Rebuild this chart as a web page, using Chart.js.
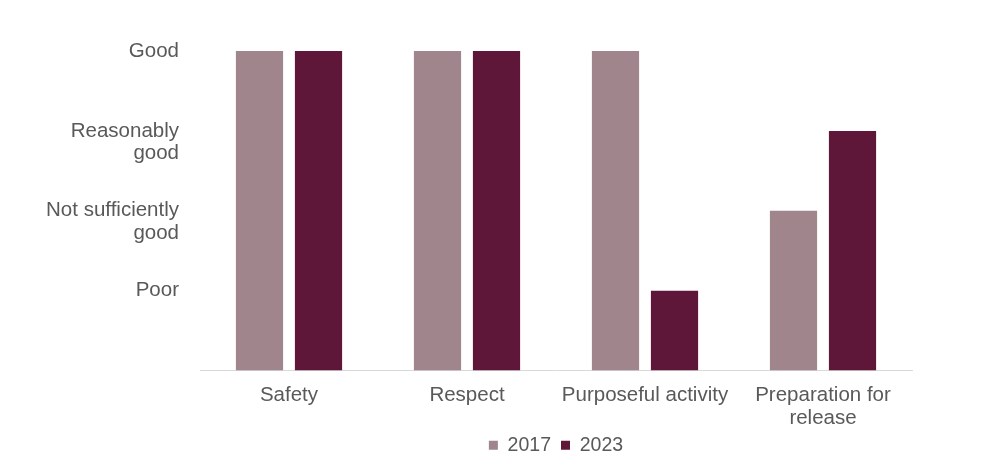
<!DOCTYPE html>
<html>
<head>
<meta charset="utf-8">
<script src="https://cdn.jsdelivr.net/npm/chart.js@4"></script>
<style>
  html, body { margin: 0; padding: 0; background: #ffffff; }
  #wrap { width: 987px; height: 469px; }
</style>
</head>
<body>
<div id="wrap"><canvas id="c" width="987" height="469"></canvas></div>
<script>
const categories = [['Safety'], ['Respect'], ['Purposeful activity'], ['Preparation for', 'release']];
const seriesNames = ['2017', '2023'];
const values2017 = [4, 4, 4, 2];
const values2023 = [4, 4, 1, 3];
const yTickLabels = ['', 'Poor', 'Not sufficiently good', 'Reasonably good', 'Good'];

const textColor = '#595959';
const fontFamily = '"Liberation Sans", Arial, sans-serif';

new Chart(document.getElementById('c'), {
  type: 'bar',
  data: {
    labels: categories,
    datasets: [
      { label: seriesNames[0], data: values2017, backgroundColor: '#A0858D' },
      { label: seriesNames[1], data: values2023, backgroundColor: '#5F1739' }
    ]
  },
  options: {
    responsive: false,
    animation: false,
    devicePixelRatio: 1,
    categoryPercentage: 0.663,
    barPercentage: 0.8,
    layout: { padding: { top: 51, right: 75, bottom: 4, left: 0 } },
    plugins: {
      tooltip: { enabled: false },
      legend: {
        position: 'bottom',
        fullSize: false,
        labels: {
          color: textColor,
          font: { family: fontFamily, size: 19.5 },
          boxWidth: 9,
          boxHeight: 9,
          padding: 10
        }
      }
    },
    scales: {
      x: {
        grid: { display: false, drawTicks: false },
        border: { display: true, color: '#D9D9D9', width: 1 },
        ticks: {
          color: textColor,
          padding: 14,
          maxRotation: 0,
          autoSkip: false,
          font: { family: fontFamily, size: 20.5, lineHeight: 1.1 }
        },
        afterFit: (s) => { s.height = 55; }
      },
      y: {
        min: 0,
        max: 4,
        grid: { display: false, drawTicks: false },
        border: { display: false },
        ticks: {
          stepSize: 1,
          color: textColor,
          padding: 21,
          font: { family: fontFamily, size: 20.5, lineHeight: 1.1 },
          callback: (v) => {
            const t = yTickLabels[v] || '';
            if (t === 'Reasonably good') return ['', 'Reasonably', 'good'];
            if (t === 'Not sufficiently good') return ['', 'Not sufficiently', 'good'];
            return t;
          }
        },
        afterFit: (s) => { s.width = 200; }
      }
    }
  }
});
</script>
</body>
</html>
